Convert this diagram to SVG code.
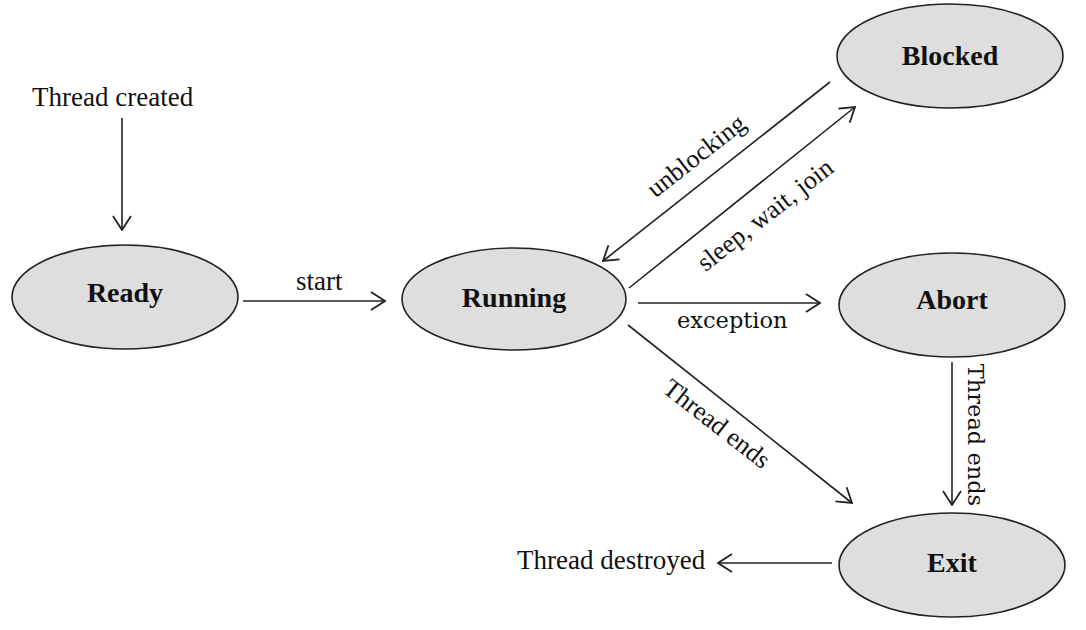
<svg xmlns="http://www.w3.org/2000/svg" width="1086" height="630" viewBox="0 0 1086 630">
<defs>
<style>
.node ellipse{fill:#dedede;stroke:#222;stroke-width:1.6}
.node text{font-family:"Liberation Serif",serif;font-weight:bold;font-size:28px;fill:#111;text-anchor:middle}
.lbl{font-family:"Liberation Serif",serif;font-size:27px;fill:#111}
.rot{font-family:"Liberation Serif",serif;font-size:26px;fill:#111}
.lbl2{font-family:"DejaVu Serif",serif;font-size:22.5px;fill:#111}
.edge{stroke:#222;stroke-width:1.6;fill:none;marker-end:url(#arr)}
</style>
<marker id="arr" viewBox="0 0 16 20" refX="15" refY="10" markerWidth="16" markerHeight="20" orient="auto" markerUnits="userSpaceOnUse">
<path d="M1,1 L15,10 L1,19" fill="none" stroke="#222" stroke-width="1.8"/>
</marker>
</defs>
<rect width="1086" height="630" fill="#fff"/>
<g id="connectors">
<line class="edge" x1="122" y1="118" x2="122" y2="230"/>
<line class="edge" x1="243" y1="301" x2="385" y2="301"/>
<line class="edge" x1="830" y1="82" x2="603" y2="261"/>
<line class="edge" x1="629" y1="288" x2="855" y2="107"/>
<line class="edge" x1="638" y1="303" x2="820" y2="303"/>
<line class="edge" x1="628" y1="325" x2="852" y2="503"/>
<line class="edge" x1="952" y1="362" x2="952" y2="505"/>
<line class="edge" x1="832" y1="563" x2="718" y2="563"/>
</g>
<g id="labels">
<text class="lbl" x="32" y="106">Thread created</text>
<text class="lbl" x="296" y="290">start</text>
<text class="lbl" x="517" y="569">Thread destroyed</text>
<text class="lbl2" x="677" y="328">exception</text>
<text class="rot" transform="translate(697,157) rotate(-38)" x="0" y="7" text-anchor="middle">unblocking</text>
<text class="rot" transform="translate(766,216) rotate(-38)" x="0" y="7" text-anchor="middle">sleep, wait, join</text>
<text class="rot" transform="translate(716,425) rotate(38)" x="0" y="7" text-anchor="middle">Thread ends</text>
<text class="lbl2" transform="translate(975,435) rotate(90)" x="0" y="7" text-anchor="middle">Thread ends</text>
</g>
<g id="node-ready" class="node"><ellipse cx="125" cy="297" rx="113" ry="52"/><text x="125" y="302">Ready</text></g>
<g id="node-running" class="node"><ellipse cx="514" cy="299" rx="112" ry="51"/><text x="514" y="307">Running</text></g>
<g id="node-blocked" class="node"><ellipse cx="950" cy="56" rx="113" ry="52"/><text x="950" y="65">Blocked</text></g>
<g id="node-abort" class="node"><ellipse cx="952" cy="305" rx="113" ry="52"/><text x="952" y="309">Abort</text></g>
<g id="node-exit" class="node"><ellipse cx="952" cy="565" rx="113" ry="52"/><text x="952" y="572">Exit</text></g>
</svg>
